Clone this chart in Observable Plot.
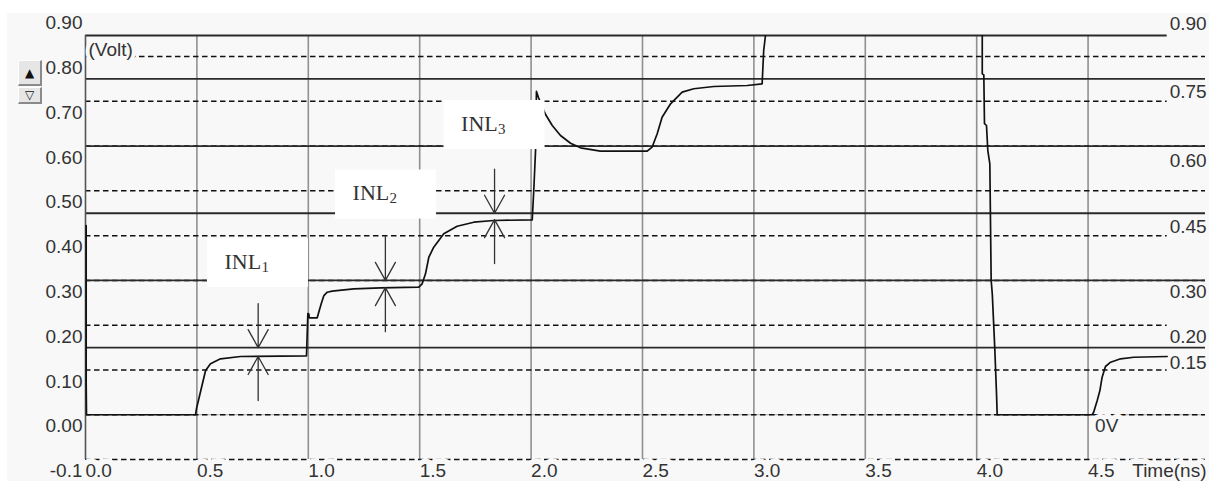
<!DOCTYPE html>
<html><head><meta charset="utf-8">
<script src="https://cdn.jsdelivr.net/npm/d3@7"></script>
<script src="https://cdn.jsdelivr.net/npm/@observablehq/plot@0.6"></script>
<style>
html,body{margin:0;padding:0;background:#fff;width:1209px;height:481px;overflow:hidden;}
#panel{position:absolute;left:7px;top:13px;width:1202px;height:468px;background:#f8f8f8;}
#chart{position:absolute;left:0;top:0;}
.btn{position:absolute;left:18px;width:24px;background:#e6e6e6;border-top:1px solid #fff;border-left:1px solid #fff;border-right:2px solid #8a8a8a;border-bottom:2px solid #8a8a8a;box-sizing:border-box;font:12px 'DejaVu Sans',sans-serif;text-align:center;color:#111;}
</style></head><body>
<div id="panel"></div>
<div class="btn" style="top:60px;height:26px;line-height:25px">▲</div>
<div class="btn" style="top:87px;height:17px;line-height:14px">▽</div>
<div id="chart"></div>
<script>
// ---- data ----
const sigT = [0.003, 0.003, 0.0045, 0.494, 0.498, 0.521, 0.539, 0.561, 0.606, 0.696, 0.992,
  0.998, 1.002, 1.005, 1.040, 1.047, 1.058, 1.070, 1.085, 1.107, 1.204, 1.324, 1.496,
  1.511, 1.526, 1.541, 1.563, 1.608, 1.668, 1.743, 1.833, 2.005, 2.012, 2.020, 2.024, 2.033,
  2.065, 2.095, 2.132, 2.177, 2.222, 2.311, 2.521, 2.543, 2.566, 2.588, 2.626, 2.678,
  2.730, 2.820, 2.970, 3.037, 3.044, 3.052, 3.056, 4.022, 4.025, 4.025, 4.032, 4.035,
  4.044, 4.050, 4.059, 4.065, 4.070, 4.081, 4.089, 4.092, 4.518, 4.525, 4.541, 4.553,
  4.563, 4.578, 4.601, 4.646, 4.705, 4.855];
const sigV = [0.4226, 0.072, 0.0, 0.0, 0.0132, 0.0614, 0.0987, 0.1137, 0.1249, 0.130, 0.1316,
  0.226, 0.2254, 0.2164, 0.2164, 0.229, 0.2477, 0.2662, 0.2736, 0.2759, 0.2812, 0.2834, 0.2848,
  0.2924, 0.3147, 0.3518, 0.3741, 0.4041, 0.421, 0.430, 0.4338, 0.4353, 0.5008, 0.590, 0.722, 0.7086,
  0.6705, 0.646, 0.6236, 0.6064, 0.5962, 0.5886, 0.5886, 0.5975, 0.6274, 0.6645, 0.6944, 0.7204,
  0.728, 0.7331, 0.7353, 0.7391, 0.8135, 0.847, 0.88, 0.88, 0.847, 0.7615, 0.759, 0.6504,
  0.646, 0.5901, 0.5604, 0.2998, 0.270, 0.1508, 0.0467, 0.0, 0.0, 0.0056, 0.0317, 0.054,
  0.0838, 0.1077, 0.1173, 0.1249, 0.1284, 0.130];

const xTicks = [0, 0.5, 1.0, 1.5, 2.0, 2.5, 3.0, 3.5, 4.0, 4.5];
const xTickLabels = ["0.0", "0.5", "1.0", "1.5", "2.0", "2.5", "3.0", "3.5", "4.0", "4.5"];
const yTicks = [0.9, 0.8, 0.7, 0.6, 0.5, 0.4, 0.3, 0.2, 0.1, 0.0, -0.1];
const yTickLabels = ["0.90", "0.80", "0.70", "0.60", "0.50", "0.40", "0.30", "0.20", "0.10", "0.00", "-0.1"];

const tMax = 5.027, vMin = -0.1, vMax = 0.847;
const idealLevels = [0.15, 0.30, 0.45, 0.60, 0.75];
const dashedFull = [0.8, 0.6, 0.5, 0.3, 0.0, -0.1];
const dashedToLabels = [0.7, 0.4, 0.2, 0.1];
const rightLabelT = 4.855;
const rightLabels = ["0.90", "0.75", "0.60", "0.45", "0.30", "0.20", "0.15"];
const rightLabelV = [0.874, 0.7208, 0.5678, 0.4193, 0.2741, 0.1747, 0.1155];

const inlSubs = ["1", "2", "3"];
const inlBoxT = [0.774, 1.349, 1.836];
const inlBoxV = [0.3388, 0.4918, 0.6471];
const inlArrowT = [0.775, 1.346, 1.836];
const inlRefV = [0.15, 0.30, 0.45];
const inlMeasV = [0.130, 0.2838, 0.4358];

// ---- tables ----
const signal = sigT.map((t, i) => ({t, v: sigV[i]}));
const xTickData = xTicks.map((t, i) => ({t, label: xTickLabels[i]}));
const yTickData = yTicks.map((v, i) => ({v, label: yTickLabels[i]}));
const rightData = rightLabels.map((label, i) => ({label, v: rightLabelV[i]}));
const inl = inlSubs.map((s, i) => ({sub: s, t: inlBoxT[i], v: inlBoxV[i], at: inlArrowT[i], ref: inlRefV[i], meas: inlMeasV[i]}));

const openArrow = {
  draw(ctx, l) {
    ctx.moveTo(0, 0); ctx.lineTo(0, -l);
    ctx.moveTo(-10, -l + 18); ctx.lineTo(0, -l); ctx.lineTo(10, -l + 18);
  }
};

const BG = "#f8f8f8";
const TXT = "#333";
const SANS = "'Liberation Sans', Arial, sans-serif";
const DASH = {stroke: "#111", strokeWidth: 1.5, strokeDasharray: "5.5,3.5"};

const chart = Plot.plot({
  width: 1209, height: 481,
  marginLeft: 85, marginRight: 4, marginTop: 35, marginBottom: 22,
  x: {domain: [0, tMax], axis: null},
  y: {domain: [vMin, vMax], axis: null},
  style: {background: "transparent", fontFamily: SANS, fontSize: "19px", color: TXT},
  marks: [
    Plot.ruleX(xTicks.slice(1), {stroke: "#909090", strokeWidth: 1.6}),
    Plot.ruleY([0], {stroke: "#aaa", strokeWidth: 1.2}),
    Plot.ruleY(dashedFull, DASH),
    Plot.ruleY(dashedToLabels, {x1: 0, x2: rightLabelT, ...DASH}),
    Plot.ruleY(idealLevels, {stroke: "#2a2a2a", strokeWidth: 1.8}),
    Plot.ruleY([vMax], {x1: 0, x2: rightLabelT, stroke: "#2a2a2a", strokeWidth: 1.8}),
    Plot.ruleX([0], {stroke: "#555", strokeWidth: 1.6}),
    Plot.line(signal, {x: "t", y: "v", stroke: "#111", strokeWidth: 1.7, clip: true}),
    Plot.rect(inl, {x1: "t", x2: "t", y1: "v", y2: "v", insetLeft: -50.5, insetRight: -50.5, insetTop: -24.5, insetBottom: -24.5, fill: "white"}),
    Plot.text(inl, {x: "t", y: "v", text: () => "INL", textAnchor: "start", dx: -33.5, dy: -1.5, fontFamily: "'Liberation Serif', 'Times New Roman', serif", fontSize: 22, fill: TXT}),
    Plot.text(inl, {x: "t", y: "v", text: "sub", textAnchor: "start", dx: 3.5, dy: 4, fontFamily: "'Liberation Serif', 'Times New Roman', serif", fontSize: 15, fill: TXT}),
    Plot.vector(inl, {x: "at", y: "ref", length: 44, rotate: 180, anchor: "end", shape: openArrow, stroke: "#333", strokeWidth: 1.3}),
    Plot.vector(inl, {x: "at", y: "meas", length: 44, rotate: 0, anchor: "end", shape: openArrow, stroke: "#333", strokeWidth: 1.3}),
    Plot.text(yTickData, {x: 0, y: "v", text: "label", textAnchor: "end", dx: -3, dy: 11.5, fill: TXT}),
    Plot.text(xTickData, {x: "t", y: vMin, text: "label", textAnchor: "start", dx: 0, dy: 11.5, fill: TXT, stroke: BG, strokeWidth: 11, paintOrder: "stroke"}),
    Plot.text(rightData, {x: rightLabelT, y: "v", text: "label", textAnchor: "start", dx: 2.5, fill: TXT}),
    Plot.text(["(Volt)"], {x: 0, y: vMax, text: d => d, textAnchor: "start", dx: 3, dy: 14.5, fill: TXT, stroke: BG, strokeWidth: 8, paintOrder: "stroke"}),
    Plot.text(["0V"], {x: 4.5, y: 0, text: d => d, textAnchor: "start", dx: 7, dy: 11.3, fill: TXT, stroke: BG, strokeWidth: 10, paintOrder: "stroke"}),
    Plot.text(["Time(ns)"], {x: tMax, y: vMin, text: d => d, textAnchor: "end", dx: 1, dy: 11.5, fill: TXT, stroke: BG, strokeWidth: 10, paintOrder: "stroke"})
  ]
});
document.getElementById("chart").appendChild(chart);
</script></body></html>
